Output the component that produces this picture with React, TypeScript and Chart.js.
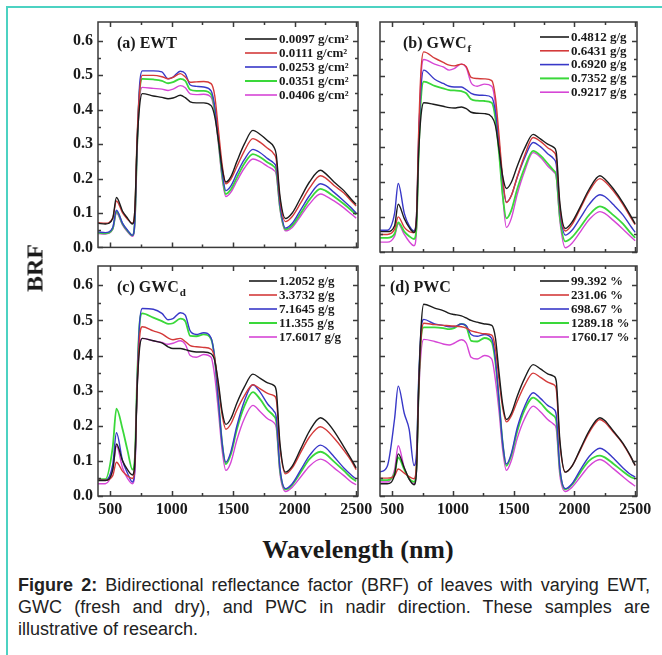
import React, { useEffect, useRef } from 'react';
import { Chart, registerables } from 'chart.js';

Chart.register(...registerables);

// ---------- data ----------
const WAVELENGTH = [400, 460, 520, 550, 600, 640, 680, 700, 718, 738, 760, 850, 920, 970, 1010, 1070, 1110, 1150, 1200, 1260, 1320, 1350, 1380, 1410, 1440, 1480, 1530, 1590, 1660, 1720, 1780, 1830, 1850, 1880, 1925, 1980, 2050, 2120, 2210, 2250, 2320, 2400, 2460, 2500];

const X_MIN = 400;
const X_MAX = 2515;
const Y_MIN = 0;
const Y_MAX = 0.655;
const X_TICKS = [500, 1000, 1500, 2000, 2500];
const Y_TICKS = [0, 0.1, 0.2, 0.3, 0.4, 0.5, 0.6];
const X_TICK_MARKS = [500, 750, 1000, 1250, 1500, 1750, 2000, 2250, 2500];
const Y_TICK_MARKS = [0, 0.05, 0.1, 0.15, 0.2, 0.25, 0.3, 0.35, 0.4, 0.45, 0.5, 0.55, 0.6];

// (a) EWT
const EWT_LABELS = ['0.0097 g/cm²', '0.0111 g/cm²', '0.0253 g/cm²', '0.0351 g/cm²', '0.0406 g/cm²'];
const ewt1 = [.070, .068, .085, .145, .105, .085, .068, .11, .30, .41, .447, .440, .436, .432, .434, .442, .435, .423, .420, .420, .412, .380, .310, .230, .190, .205, .250, .300, .340, .328, .310, .292, .270, .150, .084, .100, .145, .190, .224, .215, .190, .165, .140, .125];
const ewt2 = [.072, .070, .085, .135, .100, .082, .070, .11, .32, .45, .500, .500, .496, .490, .494, .505, .495, .480, .481, .482, .476, .440, .340, .240, .185, .198, .235, .280, .316, .305, .288, .272, .255, .140, .075, .090, .130, .172, .208, .202, .180, .158, .135, .120];
const ewt3 = [.045, .043, .058, .108, .070, .050, .035, .08, .30, .47, .513, .513, .510, .490, .495, .512, .505, .472, .468, .466, .455, .410, .320, .220, .165, .178, .215, .255, .285, .275, .258, .245, .232, .125, .056, .070, .110, .150, .185, .180, .160, .135, .115, .100];
const ewt4 = [.042, .041, .055, .105, .068, .048, .035, .08, .29, .45, .490, .488, .484, .477, .480, .490, .484, .458, .455, .455, .445, .400, .310, .210, .155, .168, .203, .243, .271, .262, .247, .235, .222, .118, .052, .064, .100, .138, .170, .165, .148, .126, .108, .095];
const ewt5 = [.040, .039, .052, .100, .065, .045, .032, .07, .28, .43, .465, .462, .460, .456, .460, .470, .464, .446, .444, .445, .436, .390, .300, .200, .148, .160, .193, .230, .257, .249, .235, .224, .212, .112, .048, .058, .092, .126, .155, .150, .135, .115, .097, .085];

// (b) GWC fresh
const GWCF_LABELS = ['0.4812 g/g', '0.6431 g/g', '0.6920 g/g', '0.7352 g/g', '0.9217 g/g'];
const gwcf1 = [.058, .058, .075, .136, .095, .070, .056, .09, .28, .39, .425, .420, .415, .411, .410, .413, .408, .398, .395, .394, .385, .360, .290, .215, .181, .198, .245, .295, .335, .322, .307, .298, .285, .140, .067, .085, .130, .178, .217, .208, .180, .140, .105, .080];
const gwcf2 = [.050, .050, .065, .100, .070, .058, .055, .10, .34, .52, .570, .552, .540, .532, .530, .535, .528, .497, .494, .493, .488, .440, .330, .210, .141, .160, .215, .275, .326, .315, .297, .285, .270, .130, .060, .078, .125, .172, .209, .201, .174, .135, .100, .078];
const gwcf3 = [.062, .062, .110, .195, .110, .075, .060, .10, .32, .47, .518, .492, .480, .472, .470, .470, .462, .452, .447, .446, .440, .400, .310, .200, .142, .160, .213, .268, .312, .300, .280, .265, .250, .120, .048, .062, .098, .135, .163, .158, .135, .105, .075, .056];
const gwcf4 = [.040, .040, .052, .084, .058, .045, .037, .07, .28, .44, .485, .473, .466, .461, .460, .458, .452, .435, .431, .430, .425, .380, .280, .160, .096, .118, .180, .240, .288, .275, .252, .232, .220, .100, .030, .042, .072, .105, .130, .125, .105, .080, .055, .040];
const gwcf5 = [.028, .028, .045, .080, .050, .030, .018, .06, .30, .50, .548, .535, .527, .518, .522, .535, .525, .482, .472, .478, .472, .420, .300, .160, .070, .095, .165, .230, .283, .270, .245, .228, .215, .090, .012, .025, .058, .092, .115, .110, .090, .065, .045, .032];

// (c) GWC dry
const GWCD_LABELS = ['1.2052 g/g', '3.3732 g/g', '7.1645 g/g', '11.355 g/g', '17.6017 g/g'];
const gwcd1 = [.044, .044, .075, .148, .100, .075, .060, .10, .30, .42, .449, .442, .436, .425, .420, .420, .417, .413, .410, .410, .405, .385, .320, .240, .204, .220, .265, .310, .347, .335, .322, .315, .300, .150, .068, .085, .135, .185, .223, .215, .185, .140, .105, .080];
const gwcd2 = [.045, .045, .058, .096, .070, .057, .050, .09, .31, .45, .482, .470, .462, .450, .445, .449, .440, .428, .425, .423, .418, .390, .310, .230, .190, .205, .245, .285, .317, .305, .292, .286, .275, .140, .063, .080, .125, .168, .197, .190, .165, .130, .100, .075];
const gwcd3 = [.045, .045, .090, .180, .100, .065, .040, .08, .32, .49, .534, .532, .520, .502, .505, .522, .515, .470, .460, .465, .450, .390, .270, .150, .096, .125, .200, .270, .317, .295, .262, .242, .225, .080, .021, .035, .075, .115, .145, .138, .112, .080, .060, .048];
const gwcd4 = [.048, .048, .140, .249, .190, .130, .075, .11, .33, .49, .520, .508, .498, .490, .492, .505, .498, .456, .455, .460, .447, .390, .270, .150, .091, .118, .190, .255, .296, .275, .245, .228, .212, .075, .019, .032, .068, .105, .126, .120, .098, .072, .052, .042];
const gwcd5 = [.035, .035, .075, .143, .080, .050, .035, .07, .30, .43, .449, .442, .437, .432, .435, .442, .432, .400, .395, .403, .395, .340, .240, .130, .073, .095, .160, .220, .258, .240, .220, .209, .195, .065, .013, .025, .055, .085, .105, .100, .080, .058, .040, .032];

// (d) PWC
const PWC_LABELS = ['99.392 %', '231.06 %', '698.67 %', '1289.18 %', '1760.17 %'];
const pwc1 = [.035, .035, .060, .120, .080, .048, .032, .07, .30, .48, .546, .535, .528, .520, .517, .513, .507, .500, .495, .490, .486, .450, .350, .260, .218, .235, .285, .335, .374, .362, .348, .341, .328, .160, .068, .085, .135, .185, .223, .215, .185, .150, .115, .087];
const pwc2 = [.051, .051, .058, .077, .065, .055, .049, .09, .30, .45, .492, .488, .486, .485, .484, .482, .478, .470, .466, .462, .458, .420, .330, .250, .211, .228, .270, .315, .350, .338, .324, .317, .305, .150, .068, .085, .132, .180, .218, .210, .182, .148, .113, .087];
const pwc3 = [.068, .085, .220, .313, .235, .190, .087, .12, .33, .47, .503, .490, .486, .482, .482, .490, .485, .460, .455, .460, .448, .390, .270, .150, .091, .120, .195, .255, .294, .278, .258, .247, .232, .080, .021, .035, .075, .112, .136, .130, .108, .080, .062, .054];
const pwc4 = [.045, .045, .065, .110, .075, .050, .040, .08, .30, .45, .480, .480, .478, .475, .478, .490, .483, .442, .440, .450, .438, .380, .270, .150, .086, .115, .185, .245, .280, .265, .242, .228, .215, .075, .019, .032, .068, .100, .115, .110, .092, .070, .055, .049];
const pwc5 = [.040, .040, .075, .143, .080, .048, .035, .07, .28, .41, .446, .440, .433, .430, .435, .445, .435, .395, .390, .400, .390, .330, .240, .130, .073, .100, .165, .220, .256, .240, .218, .204, .192, .060, .013, .025, .055, .085, .104, .098, .078, .055, .038, .028];

const COLORS = ['#1c1c1c', '#d43a3a', '#3838c8', '#3ad83a', '#d646d6'];
const WIDTHS = [1.4, 1.4, 1.4, 1.8, 1.4];

const SERIF = '"Liberation Serif", "Times New Roman", serif';
const SANS = '"Liberation Sans", Arial, sans-serif';

type PanelCfg = {
  title: string; sub?: string; labels: string[]; series: number[][];
  cx: number; cy: number; cw: number; ch: number;
  left: number; top: number; right: number; bottom: number;
  showX: boolean; showY: boolean;
  titleX: number; legX: number; legLen: number; legY0: number; legStep: number;
};

const PANELS: PanelCfg[] = [
  { title: '(a) EWT', labels: EWT_LABELS, series: [ewt1, ewt2, ewt3, ewt4, ewt5],
    cx: 48, cy: 2, cw: 330, ch: 260, left: 98, top: 22, right: 358, bottom: 252,
    showX: false, showY: true, titleX: 19, legX: 147, legLen: 32, legY0: 17, legStep: 14 },
  { title: '(b) GWC', sub: 'f', labels: GWCF_LABELS, series: [gwcf1, gwcf2, gwcf3, gwcf4, gwcf5],
    cx: 340, cy: 2, cw: 322, ch: 260, left: 380, top: 22, right: 637, bottom: 252,
    showX: false, showY: false, titleX: 23, legX: 160, legLen: 29, legY0: 15, legStep: 13.8 },
  { title: '(c) GWC', sub: 'd', labels: GWCD_LABELS, series: [gwcd1, gwcd2, gwcd3, gwcd4, gwcd5],
    cx: 48, cy: 246, cw: 337, ch: 280, left: 98, top: 266, right: 358, bottom: 496,
    showX: true, showY: true, titleX: 19, legX: 151, legLen: 28, legY0: 15, legStep: 14 },
  { title: '(d) PWC', labels: PWC_LABELS, series: [pwc1, pwc2, pwc3, pwc4, pwc5],
    cx: 340, cy: 246, cw: 322, ch: 280, left: 380, top: 266, right: 637, bottom: 496,
    showX: true, showY: false, titleX: 10, legX: 160, legLen: 29, legY0: 15, legStep: 14 },
];

function Panel({ cfg }: { cfg: PanelCfg }) {
  const ref = useRef<HTMLCanvasElement>(null);
  useEffect(() => {
    if (!ref.current) return;
    const deco = {
      id: 'deco',
      afterDraw(chart: any) {
        const { ctx, chartArea: a, scales } = chart;
        const x = scales.x, y = scales.y;
        ctx.save();
        ctx.strokeStyle = '#3a3a3a';
        ctx.lineWidth = 1.5;
        ctx.strokeRect(a.left, a.top, a.right - a.left, a.bottom - a.top);
        ctx.beginPath();
        X_TICK_MARKS.forEach((v) => {
          const px = Math.round(x.getPixelForValue(v)) + 0.5;
          const len = v % 500 === 0 ? 5 : 3;
          ctx.moveTo(px, a.bottom); ctx.lineTo(px, a.bottom - len);
          ctx.moveTo(px, a.top); ctx.lineTo(px, a.top + len);
        });
        Y_TICK_MARKS.forEach((v, i) => {
          const py = Math.round(y.getPixelForValue(v)) + 0.5;
          const len = i % 2 === 0 ? 5 : 3;
          ctx.moveTo(a.left, py); ctx.lineTo(a.left + len, py);
          ctx.moveTo(a.right, py); ctx.lineTo(a.right - len, py);
        });
        ctx.stroke();

        // title
        ctx.fillStyle = '#1a1a1a';
        ctx.textBaseline = 'alphabetic';
        ctx.textAlign = 'left';
        ctx.font = `bold 16px ${SERIF}`;
        const tx = a.left + cfg.titleX, ty = a.top + 26;
        ctx.fillText(cfg.title, tx, ty);
        if (cfg.sub) {
          const w = ctx.measureText(cfg.title).width;
          ctx.font = `bold 11px ${SERIF}`;
          ctx.fillText(cfg.sub, tx + w + 1, ty + 4);
        }

        // legend
        ctx.font = `bold 13px ${SERIF}`;
        ctx.textBaseline = 'middle';
        chart.data.datasets.forEach((ds: any, i: number) => {
          const ly = a.top + cfg.legY0 + i * cfg.legStep;
          ctx.strokeStyle = ds.borderColor;
          ctx.lineWidth = ds.borderWidth + 0.2;
          ctx.beginPath();
          ctx.moveTo(a.left + cfg.legX, ly);
          ctx.lineTo(a.left + cfg.legX + cfg.legLen, ly);
          ctx.stroke();
          ctx.fillStyle = '#1a1a1a';
          ctx.fillText(ds.label, a.left + cfg.legX + cfg.legLen + 2, ly + 0.5);
        });
        ctx.restore();
      },
    };

    const chart = new Chart(ref.current, {
      type: 'line',
      data: {
        datasets: cfg.series.map((s, i) => ({
          label: cfg.labels[i],
          data: WAVELENGTH.map((w, j) => ({ x: w, y: s[j] })),
          borderColor: COLORS[i],
          borderWidth: WIDTHS[i],
          pointRadius: 0,
          fill: false,
          cubicInterpolationMode: 'monotone' as const,
        })),
      },
      options: {
        responsive: false,
        animation: false,
        events: [],
        layout: { padding: { left: 0, top: cfg.top - cfg.cy, right: cfg.cx + cfg.cw - cfg.right, bottom: 0 } },
        plugins: { legend: { display: false }, tooltip: { enabled: false }, title: { display: false } },
        scales: {
          x: {
            type: 'linear', min: X_MIN, max: X_MAX,
            grid: { display: false, drawTicks: false },
            border: { display: false },
            afterBuildTicks: (s: any) => { s.ticks = X_TICKS.map((v) => ({ value: v })); },
            ticks: {
              display: cfg.showX, autoSkip: false, maxRotation: 0, minRotation: 0,
              padding: 4, color: '#1a1a1a', font: { family: SERIF, size: 16, weight: 'bold' },
              callback: (v: any) => String(v),
            },
            afterFit: (s: any) => { s.height = cfg.cy + cfg.ch - cfg.bottom; },
          },
          y: {
            type: 'linear', min: Y_MIN, max: Y_MAX,
            grid: { display: false, drawTicks: false },
            border: { display: false },
            afterBuildTicks: (s: any) => { s.ticks = Y_TICKS.map((v) => ({ value: v })); },
            ticks: {
              display: cfg.showY, autoSkip: false,
              padding: 5, color: '#1a1a1a', font: { family: SERIF, size: 16, weight: 'bold' },
              callback: (v: any) => Number(v).toFixed(1),
            },
            afterFit: (s: any) => { s.width = cfg.left - cfg.cx; },
          },
        },
      } as any,
      plugins: [deco],
    });
    return () => chart.destroy();
  }, [cfg]);
  return (
    <canvas ref={ref} width={cfg.cw} height={cfg.ch}
      style={{ position: 'absolute', left: cfg.cx, top: cfg.cy, width: cfg.cw, height: cfg.ch }} />
  );
}

export default function App() {
  const lineStyle: React.CSSProperties = {
    position: 'absolute', left: 18, width: 632, fontFamily: SANS, fontSize: 18,
    lineHeight: '22px', color: '#222', whiteSpace: 'nowrap',
  };
  const just: React.CSSProperties = { ...lineStyle, whiteSpace: 'normal', textAlign: 'justify', textAlignLast: 'justify' as any };
  return (
    <div style={{ position: 'absolute', left: 0, top: 0, width: 662, height: 655, overflow: 'hidden', background: '#fff' }}>
      <div style={{ position: 'absolute', left: 6, top: 6, width: 720, height: 720, border: '2px solid #4cd2c2', boxSizing: 'border-box' }} />
      {PANELS.map((p, i) => <Panel key={i} cfg={p} />)}
      <div style={{ position: 'absolute', left: 35, top: 268, transform: 'translate(-50%, -50%) rotate(-90deg)', fontFamily: SERIF, fontWeight: 'bold', fontSize: 24, color: '#1a1a1a', whiteSpace: 'nowrap' }}>BRF</div>
      <div style={{ position: 'absolute', left: 358, top: 550, transform: 'translate(-50%, -50%)', fontFamily: SERIF, fontWeight: 'bold', fontSize: 26, color: '#1a1a1a', whiteSpace: 'nowrap' }}>Wavelength (nm)</div>
      <div style={{ ...just, top: 574 }}><b>Figure 2:</b> Bidirectional reflectance factor (BRF) of leaves with varying EWT,</div>
      <div style={{ ...just, top: 596 }}>GWC (fresh and dry), and PWC in nadir direction. These samples are</div>
      <div style={{ ...lineStyle, top: 618 }}>illustrative of research.</div>
    </div>
  );
}
